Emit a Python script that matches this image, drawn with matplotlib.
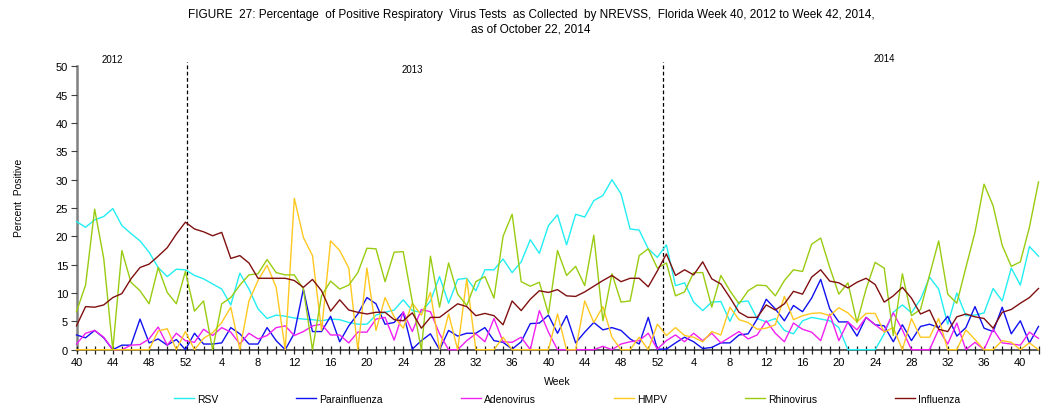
import matplotlib
matplotlib.use("Agg")
import matplotlib.pyplot as plt
import numpy as np

plt.rcParams['font.family'] = ['Liberation Sans', 'DejaVu Sans']

# Week categories: week 40 of 2012 through week 42 of 2014
weeks = list(range(40, 53)) + list(range(1, 53)) + list(range(1, 43))

rsv = [22.6, 21.6, 22.9, 23.5, 24.9, 21.9, 20.5, 19.2, 17.2, 14.5, 12.9, 14.2, 14.1, 13.1,
       12.5, 11.6, 10.7, 7.9, 13.5, 10.7, 7.2, 5.5, 6.1, 5.9, 5.6, 5.4, 5.3, 5.1, 5.4, 5.3,
       4.8, 4.5, 4.5, 6.1, 6.6,
       7.0, 8.8, 6.9, 6.6, 8.6, 12.9, 8.2, 12.4, 12.6, 10.4, 14.1, 14.1, 16.0, 13.6, 15.5,
       19.4, 17.0, 21.9, 23.8, 18.5, 23.9, 23.4, 26.3, 27.2, 30.0, 27.5, 21.3, 21.1, 17.8,
       16.3, 18.5, 11.3, 11.8, 8.4, 6.9,
       8.4, 8.5, 5.0, 8.4, 8.6, 5.5, 4.9, 5.5, 3.4, 2.8, 5.1, 5.7, 5.4, 5.1, 3.9, 0, 0, 0, 0,
       2.8, 6.6, 7.9, 6.5, 8.9, 12.8, 10.7, 4.5, 10.0, 6.0, 6.1, 6.5, 10.8, 8.6, 14.4, 11.4,
       18.2, 16.5]

parainfluenza = [2.6, 2.1, 3.4, 2.1, 0, 0.8, 0.8, 5.4, 1.2, 1.9, 0.8, 1.8, 0, 2.9,
                 1.0, 1.0, 1.2, 3.9, 2.8, 1.0, 1.0, 3.9, 1.6, 0, 2.9, 10.7, 3.2, 3.2, 5.9, 1.4,
                 4.2, 6.3, 9.2, 8.1, 4.5,
                 4.8, 6.6, 0.1, 1.6, 2.8, 0, 3.4, 2.4, 2.9, 2.9, 3.9, 1.6, 1.3, 0.1, 1.4,
                 4.6, 4.7, 6.1, 2.9, 6.0, 1.2, 3.1, 4.8, 3.5, 3.9, 3.4, 1.9, 1.0, 5.7, 0.1,
                 0.1, 1.2, 2.2, 1.4, 0.2,
                 0.4, 1.2, 1.2, 2.6, 2.8, 5.4, 8.9, 7.2, 5.1, 7.8, 6.7, 9.1, 12.4, 7.2, 4.9,
                 4.9, 2.4, 5.7, 4.4, 4.2, 1.4, 4.4, 1.6, 4.1, 4.5, 3.9, 5.9, 2.4, 3.9, 7.6,
                 3.8, 3.2, 7.5, 2.8, 5.1, 1.2, 4.1]

adenovirus = [1.0, 2.9, 3.4, 2.2, 0, 0, 0.8, 0.9, 1.9, 4.0, 0.8, 2.9, 1.6, 1.3,
              3.6, 2.5, 3.9, 3.1, 1.0, 2.9, 1.9, 2.5, 3.9, 4.2, 2.5, 3.2, 4.2, 4.5, 2.6, 2.6,
              1.2, 3.1, 3.1, 5.4, 5.7,
              1.7, 6.7, 3.2, 7.1, 6.7, 2.8, 0, 0, 1.6, 2.8, 1.4, 5.5, 1.4, 1.3, 2.2,
              0, 6.9, 3.1, 0, 0, 0, 0, 0, 0.6, 0, 1.0, 1.4, 1.6, 2.9, 0.1,
              1.6, 2.6, 1.4, 2.9, 1.6,
              2.9, 1.2, 2.2, 3.2, 1.9, 2.6, 5.1, 2.9, 1.4, 4.7, 3.6, 3.1, 1.6, 6.3, 1.6,
              4.9, 3.5, 5.7, 4.4, 3.2, 6.5, 3.5, 0, 0, 0, 3.6, 1.0, 4.7, 0, 1.3,
              0, 3.6, 1.2, 1.0, 0.8, 3.1, 2.0]

hmpv = [0, 0, 0, 0, 0, 0, 0, 0, 0, 3.3, 3.7, 0, 3.2, 0,
        2.0, 3.0, 4.8, 7.5, 0, 8.6, 12.2, 14.9, 11.0, 0, 26.7, 19.8, 16.6, 3.4, 19.2, 17.5,
        14.4, 0, 14.4, 3.4, 9.2,
        5.8, 3.8, 8.2, 6.1, 10.1, 0, 6.3, 0, 12.5, 0, 0, 0, 2.2, 0, 0,
        0, 0, 0, 6.3, 0, 0, 8.6, 4.8, 7.6, 2.2, 0, 0, 2.2, 0, 4.5,
        2.5, 3.9, 2.5, 2.2, 1.4,
        3.2, 2.6, 7.5, 5.3, 4.8, 3.6, 3.8, 4.4, 9.4, 5.3, 6.0, 6.4, 6.5, 6.0, 7.4,
        6.5, 4.9, 6.4, 6.4, 3.1, 3.9, 0, 5.5, 2.2, 2.2, 5.5, 0, 0, 3.5, 1.8,
        0, 0, 1.6, 1.3, 0, 1.2, 0]

rhinovirus = [6.7, 11.4, 24.8, 16.1, 0, 17.5, 11.9, 10.4, 8.1, 14.5, 10.1, 8.1, 13.8, 6.8,
              8.6, 0, 8.1, 9.2, 11.4, 13.2, 13.4, 15.9, 13.6, 13.2, 13.2, 10.7, 0, 9.5, 12.1,
              10.7, 11.4, 13.6, 17.9, 17.8, 12.0,
              17.2, 17.3, 8.5, 0, 16.5, 7.5, 15.3, 9.8, 7.8, 12.0, 12.9, 9.1, 20.0, 23.9, 12.0,
              11.2, 11.9, 6.3, 17.5, 13.1, 14.7, 11.3, 20.2, 5.1, 13.4, 8.4, 8.6, 16.6, 17.8,
              14.4, 15.3, 9.5, 10.2, 13.6, 13.6,
              7.5, 13.1, 10.4, 8.1, 10.4, 11.4, 11.3, 9.5, 12.2, 14.1, 13.8, 18.6, 19.7, 14.5,
              9.8, 11.8, 4.8, 10.7, 15.4, 14.4, 2.5, 13.4, 6.0, 7.1, 13.2, 19.2, 9.8, 8.2,
              14.5, 20.7, 29.2, 25.4, 18.4, 14.7, 15.5, 21.6, 29.6]

influenza = [4.2, 7.6, 7.5, 7.9, 9.2, 9.9, 12.5, 14.5, 15.1, 16.5, 18.0, 20.4, 22.5, 21.3,
             20.8, 20.1, 20.7, 16.1, 16.6, 15.3, 12.6, 12.6, 12.6, 12.6, 12.2, 11.0, 12.4, 10.4,
             6.8, 8.8, 7.0, 6.6, 6.3, 6.6, 6.6,
             5.3, 5.1, 6.5, 3.8, 5.7, 5.7, 6.9, 8.1, 7.6, 6.0, 6.4, 6.0, 4.4, 8.6, 6.9,
             8.9, 10.4, 10.1, 10.6, 9.5, 9.4, 10.2, 11.2, 12.2, 13.1, 12.0, 12.6, 12.6, 11.1,
             13.9, 16.9, 13.1, 14.1, 13.2, 15.5,
             12.5, 11.6, 9.2, 6.6, 5.7, 5.7, 7.9, 7.0, 8.1, 10.3, 9.8, 12.8, 14.1, 12.1, 11.8,
             10.9, 11.9, 12.6, 11.5, 8.4, 9.5, 11.0, 9.1, 6.3, 7.0, 3.6, 3.2, 5.8, 6.3, 5.8,
             5.5, 3.8, 6.6, 7.1, 8.2, 9.2, 10.8]

series_names = ["RSV", "Parainfluenza", "Adenovirus", "HMPV", "Rhinovirus", "Influenza"]
series_values = [rsv, parainfluenza, adenovirus, hmpv, rhinovirus, influenza]
series_colors = ["#22EEF2", "#1010F0", "#F020F0", "#FFC820", "#99CC11", "#801010"]

year_labels = ["2012", "2013", "2014"]

W, H = 1047, 406
fig = plt.figure(figsize=(W / 100, H / 100), dpi=100)
ax = fig.add_axes([76.5 / W, (H - 350.7) / H, 962 / W, 283.4 / H])

x = np.arange(len(weeks))
lines = []
for name, vals, col in zip(series_names, series_values, series_colors):
    ln, = ax.plot(x, vals, color=col, lw=1.0, label=name, clip_on=False, zorder=3)
    lines.append(ln)

ax.set_xlim(0, len(weeks) - 1)
ax.set_ylim(0, 50)
ax.set_yticks(np.arange(0, 51, 5))
ax.set_xticks(x[::4])
ax.set_xticklabels([str(w) for w in weeks[::4]])
ax.set_xticks(x, minor=True)

for s in ["top", "right"]:
    ax.spines[s].set_visible(False)
ax.spines["left"].set_color("#808080")
ax.spines["left"].set_linewidth(1.8)
ax.spines["bottom"].set_color("#404040")
ax.spines["bottom"].set_linewidth(1.2)
ax.spines["left"].set_zorder(1)
ax.spines["bottom"].set_zorder(1)

ax.tick_params(axis="y", direction="out", length=4, width=0.8, color="#404040",
               labelsize=8, pad=2)
ax.tick_params(axis="x", which="both", direction="inout", length=6, width=0.9,
               color="#202020", labelsize=8, pad=2)

# year dividers
ax.vlines([12.2, 64.6], 0, 50.7, colors="black", linestyles=(0, (3, 2)), lw=0.9,
          clip_on=False, zorder=2)

ax.text(4.0, 50.4, year_labels[0], fontsize=7, ha="center", va="bottom")
ax.text(37.0, 48.6, year_labels[1], fontsize=7, ha="center", va="bottom")
ax.text(89.0, 50.5, year_labels[2], fontsize=7, ha="center", va="bottom")

ax.set_ylabel("Percent  Positive", fontsize=7.5)
ax.yaxis.set_label_coords(-52 / 962, 0.54)
ax.set_xlabel("Week", fontsize=7.5, labelpad=7)

fig.text(0.507, 1 - 15 / H,
         "FIGURE  27: Percentage  of Positive Respiratory  Virus Tests  as Collected  by NREVSS,  Florida Week 40, 2012 to Week 42, 2014,",
         ha="center", va="center", fontsize=8.5)
fig.text(0.507, 1 - 29 / H, "as of October 22, 2014", ha="center", va="center", fontsize=8.5)

fig.legend(handles=lines, labels=series_names, loc="center left",
           bbox_to_anchor=(174 / W, 1 - 400 / H), ncol=6, frameon=False,
           fontsize=7.5, handlelength=1.9, handletextpad=0.3, columnspacing=7.5,
           borderaxespad=0, borderpad=0)

fig.savefig("out.png", dpi=100)
